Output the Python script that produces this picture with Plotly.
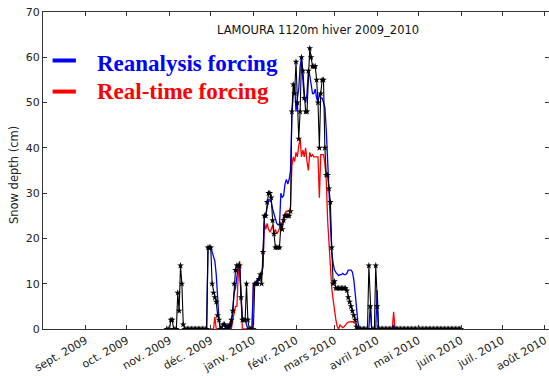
import pandas as pd
import plotly.graph_objects as go

# Observed snow depth (cm), one value per day from 30 Oct 2009 to 1 Jun 2010
obs_oct = [0, 0]
obs_nov = [0, 2, 2, 0, 0, 0, 8, 4, 14, 10, 1, 0, 0, 0, 0, 0, 0, 0, 0, 0,
           0, 0, 0, 0, 0, 0, 0, 0, 18, 18]
obs_dec = [18, 10, 8, 7, 6, 3, 2, 0, 0, 1, 1, 0, 0.5, 0.5, 1, 2, 4, 10, 13, 14,
           14, 14, 7, 2, 2, 2, 10, 2, 0, 0, 0]
obs_jan = [0, 10, 10, 10, 11, 12, 10, 17, 25, 25, 28, 30, 30, 29, 24, 21, 18, 18, 18, 18,
           23, 22, 24, 25, 25, 25, 25, 26, 48, 54, 52]
obs_feb = [59, 50, 42, 48, 60, 57, 51, 48, 48, 57, 62, 60, 58, 58, 58, 55, 50, 40, 52, 55,
           55, 40, 34, 34, 31, 28, 18, 10]
obs_mar = [10.5, 9, 9, 9, 9, 9, 9, 9, 9, 8.5, 7, 6, 5, 4, 3, 2, 0.5, 0, 0, 0,
           0, 0, 0, 0, 0, 14, 5, 0, 0, 0, 14]
obs_apr = [5, 0, 0, 0, 0, 0, 0, 0, 0, 0, 0, 0, 0, 0, 0, 0, 0, 0, 0, 0,
           0, 0, 0, 0, 0, 0, 0, 0, 0, 0]
obs_may = [0, 0, 0, 0, 0, 0, 0, 0, 0, 0, 0, 0, 0, 0, 0, 0, 0, 0, 0, 0,
           0, 0, 0, 0, 0, 0, 0, 0, 0, 0, 0]
obs_jun = [0]

# Simulated snow depth (cm) with reanalysis forcing, daily from 25 Nov 2009
rea_nov = [0, 0, 0, 0, 18, 18]
rea_dec = [18, 17, 16, 15, 12, 6, 2, 0, 0.5, 1, 0.5, 1, 0.5, 0, 0, 1, 4, 8, 9, 11,
           14, 14, 6, 2, 2, 2, 1, 0, 0, 0, 0]
rea_jan = [10, 10, 10.5, 11, 11, 11.5, 12, 14, 25, 25, 27, 28.5, 28.5, 28, 26.5, 25.5, 24, 23.3, 23, 23,
           30, 29, 29.5, 32, 33, 32, 33, 35, 47, 52, 54]
rea_feb = [48, 51, 53, 58, 60, 55, 51, 50, 52, 57, 56, 54, 52, 52, 53, 51, 50, 52, 51, 51,
           50, 49, 44, 37, 31, 22, 17, 14.5]
rea_mar = [13, 12.5, 12, 11.8, 12, 12, 12.3, 12, 12, 12.3, 13, 13, 13, 12.6, 11, 8, 4, 1.5, 0, 0,
           0, 0, 0, 0, 0, 0, 5.3, 0, 0, 0, 0]
rea_apr = [8.6, 0, 0, 0, 0, 0, 0, 0, 0, 0, 0, 0, 0.9, 0, 0, 0, 0, 0, 0, 0,
           0, 0, 0, 0, 0, 0, 0, 0, 0, 0]

# Simulated snow depth (cm) with real-time forcing, daily from 25 Nov 2009
rt_nov = [0, 0, 0, 0, 0, 0]
rt_dec = [0, 0, 0, 2.7, 0, 0, 0, 0, 0, 0, 0, 0, 0, 0, 0, 0, 2, 4, 5, 5,
          12, 15, 8, 0, 0, 0, 0, 0, 0, 0, 0]
rt_jan = [10, 10, 10.5, 10.8, 11, 11.5, 12, 14, 23.5, 22, 23.3, 22, 21.5, 22, 23, 21, 22, 21, 21.5, 22.5,
          23, 23.3, 25, 25.5, 26, 26, 26, 27, 36, 38, 37]
rt_feb = [39, 38, 40.5, 42, 38, 39.5, 38, 40, 37, 35, 39, 38, 38.5, 38, 38, 38, 38, 29, 38.5, 38.5,
          38.5, 36.5, 33, 24, 18, 13, 9, 6.5]
rt_mar = [4, 2, 0.5, 0, 0.9, 0.5, 0.3, 0.5, 1, 1.3, 1.5, 1.6, 1.6, 1.6, 1.5, 1.3, 0.3, 0, 0, 0,
          0, 0, 0, 0, 0, 0, 0, 0, 0, 0, 0]
rt_apr = [0, 0, 0, 0, 0, 0, 0, 0, 0, 0, 0, 0, 3.8, 0, 0, 0, 0, 0, 0, 0,
          0, 0, 0, 0, 0, 0, 0, 0, 0, 0]

# Month ticks (French labels)
tick_dates = ["2009-09-01", "2009-10-01", "2009-11-01", "2009-12-01", "2010-01-01", "2010-02-01",
              "2010-03-01", "2010-04-01", "2010-05-01", "2010-06-01", "2010-07-01", "2010-08-01"]
tick_labels = ["sept. 2009", "oct. 2009", "nov. 2009", "déc. 2009", "janv. 2010", "févr. 2010",
               "mars 2010", "avril 2010", "mai 2010", "juin 2010", "juil. 2010", "août 2010"]

obs_depth = obs_oct + obs_nov + obs_dec + obs_jan + obs_feb + obs_mar + obs_apr + obs_may + obs_jun
obs_dates = pd.date_range("2009-10-30", periods=len(obs_depth), freq="D")

rea_depth = rea_nov + rea_dec + rea_jan + rea_feb + rea_mar + rea_apr
rt_depth = rt_nov + rt_dec + rt_jan + rt_feb + rt_mar + rt_apr
model_dates = pd.date_range("2009-11-25", periods=len(rea_depth), freq="D")

BLUE = "#0000ff"
RED = "#ff0000"
FONT = "DejaVu Sans"

fig = go.Figure()
fig.add_trace(go.Scatter(x=model_dates, y=rt_depth, mode="lines",
                         line=dict(color=RED, width=1.3), name="Real-time forcing"))
fig.add_trace(go.Scatter(x=model_dates, y=rea_depth, mode="lines",
                         line=dict(color=BLUE, width=1.3), name="Reanalysis forcing"))
fig.add_trace(go.Scatter(x=obs_dates, y=obs_depth, mode="lines+markers",
                         line=dict(color="black", width=1.1),
                         marker=dict(symbol="star", size=5, color="black"),
                         name="Observations"))

axis_common = dict(
    showline=True, linecolor="#333333", linewidth=1, mirror="ticks", automargin=False,
    ticks="inside", ticklen=4, tickcolor="#333333", showgrid=False, zeroline=False,
)

fig.update_layout(
    width=549, height=376,
    margin=dict(l=43, r=0, t=12, b=47),
    paper_bgcolor="white", plot_bgcolor="white",
    showlegend=False,
    xaxis=dict(range=["2009-08-01", "2010-08-04"], tickvals=tick_dates, ticktext=tick_labels,
               tickangle=-30, ticklabeloverflow="allow",
               tickfont=dict(family=FONT, size=11, color="#222222"),
               **axis_common),
    yaxis=dict(range=[0, 70], tickvals=[0, 10, 20, 30, 40, 50, 60, 70],
               tickfont=dict(family=FONT, size=11, color="#222222"), **axis_common),
)

# Station title and axis label
fig.add_annotation(text="LAMOURA 1120m hiver 2009_2010", xref="paper", yref="paper",
                   x=0.543, y=0.942, xanchor="center", yanchor="middle", showarrow=False,
                   font=dict(family=FONT, size=11.5, color="#111111"))
fig.add_annotation(text="Snow depth (cm)", xref="paper", yref="paper",
                   x=-0.057, y=0.486, xanchor="center", yanchor="middle", textangle=-90,
                   showarrow=False, font=dict(family=FONT, size=11.5, color="#222222"))

# Hand-placed legend
legend_items = [("Reanalysis forcing", BLUE, 0.847, 0.836), ("Real-time forcing", RED, 0.749, 0.749)]
for label, color, y_line, y_text in legend_items:
    fig.add_shape(type="line", xref="paper", yref="paper", x0=0.019, x1=0.065, y0=y_line, y1=y_line,
                  line=dict(color=color, width=4))
    fig.add_annotation(text="<b>" + label + "</b>", xref="paper", yref="paper",
                       x=0.102, y=y_text, xanchor="left", yanchor="middle", showarrow=False,
                       font=dict(family="Liberation Serif", size=23, color=color))

fig.write_html("out.html")
